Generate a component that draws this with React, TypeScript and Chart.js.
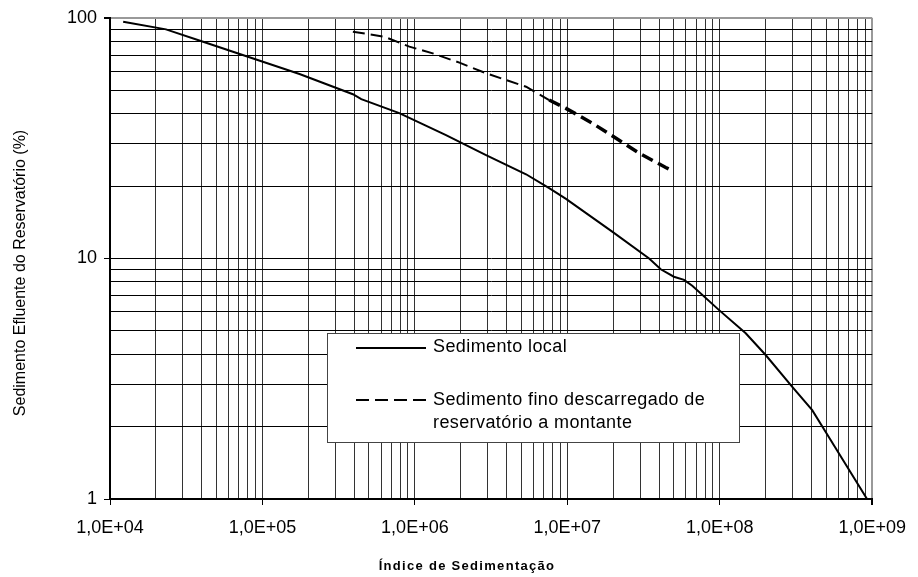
import React, { useEffect, useRef } from "react";
import { Chart, registerables } from "chart.js";

Chart.register(...registerables);

// ---- Data ----
const localLabel = "Sedimento local";
const fineLabelLines = ["Sedimento fino descarregado de", "reservatório a montante"];

const localX = [1.22e4, 2.33e4, 4.08e4, 1.75e5, 3.92e5, 4.45e5, 7.9e5, 1.6e6, 2.93e6, 5.36e6, 7.6e6, 9.8e6, 1.98e7, 3.44e7, 4.1e7, 5.0e7, 5.83e7, 6.6e7, 9.9e7, 1.48e8, 2.0e8, 2.98e8, 4.04e8, 4.93e8, 9.25e8];
const localY = [96.5, 89.7, 79.7, 58.5, 48.2, 46.0, 40.2, 32.6, 26.9, 22.4, 19.6, 17.7, 12.9, 10.0, 9.02, 8.4, 8.15, 7.7, 6.1, 4.89, 3.97, 2.93, 2.34, 1.91, 1.0];

const fineX = [3.92e5, 6.3e5, 9.2e5, 1.31e6, 1.96e6, 2.93e6, 5.36e6, 7.6e6, 9.8e6, 1.46e7, 1.98e7, 2.96e7, 4.42e7, 5.0e7];
const fineY = [87.7, 83.6, 76.0, 71.3, 65.2, 58.9, 51.8, 45.6, 42.1, 36.5, 32.3, 27.4, 23.9, 23.0];

const xTickLabels = ["1,0E+04", "1,0E+05", "1,0E+06", "1,0E+07", "1,0E+08", "1,0E+09"];
const yTickLabels = ["1", "10", "100"];
const xTitle = "Índice de Sedimentação";
const yTitle = "Sedimento Efluente do Reservatório (%)";

const X_MIN_EXP = 4;
const X_MAX_EXP = 9;
const Y_MIN_EXP = 0;
const Y_MAX_EXP = 2;

const FONT = "'Liberation Sans', Arial, Helvetica, sans-serif";

function logTicks(minExp: number, maxExp: number) {
  const out: { value: number; major: boolean }[] = [];
  for (let e = minExp; e < maxExp; e++) {
    for (let m = 1; m <= 9; m++) {
      out.push({ value: m * Math.pow(10, e), major: m === 1 });
    }
  }
  out.push({ value: Math.pow(10, maxExp), major: true });
  return out;
}

function isDecade(v: number) {
  const l = Math.log10(v);
  return Math.abs(l - Math.round(l)) < 1e-9;
}

const overlayPlugin = {
  id: "overlay",
  afterDatasetsDraw(chart: any) {
    const { ctx, chartArea: ca } = chart;
    ctx.save();
    // legend box
    const bx = ca.left + 217;
    const by = ca.top + 315;
    const bw = 412;
    const bh = 109;
    ctx.fillStyle = "#ffffff";
    ctx.fillRect(bx, by, bw, bh);
    ctx.strokeStyle = "#444";
    ctx.lineWidth = 1;
    ctx.strokeRect(bx + 0.5, by + 0.5, bw, bh);

    ctx.strokeStyle = "#000";
    ctx.lineWidth = 2;
    ctx.setLineDash([]);
    ctx.beginPath();
    ctx.moveTo(bx + 29, by + 15);
    ctx.lineTo(bx + 99, by + 15);
    ctx.stroke();

    ctx.setLineDash([13, 6]);
    ctx.beginPath();
    ctx.moveTo(bx + 29, by + 67);
    ctx.lineTo(bx + 99, by + 67);
    ctx.stroke();
    ctx.setLineDash([]);

    ctx.fillStyle = "#000";
    ctx.font = `18px ${FONT}`;
    (ctx as any).letterSpacing = "0.4px";
    ctx.textAlign = "left";
    ctx.textBaseline = "middle";
    ctx.fillText(chart.data.datasets[0].label, bx + 106, by + 14);
    ctx.fillText(fineLabelLines[0], bx + 106, by + 67);
    ctx.fillText(fineLabelLines[1], bx + 106, by + 90);
    ctx.restore();
  },
  afterDraw(chart: any) {
    const { ctx, chartArea: ca } = chart;
    ctx.save();
    ctx.fillStyle = "#000";
    ctx.textAlign = "center";
    ctx.textBaseline = "middle";
    // x title
    ctx.font = `bold 13px ${FONT}`;
    (ctx as any).letterSpacing = "1.3px";
    ctx.fillText(xTitle, ca.left + 357, ca.bottom + 67);
    // y title
    ctx.font = `16px ${FONT}`;
    (ctx as any).letterSpacing = "0px";
    ctx.translate(21, ca.top + 255);
    ctx.rotate(-Math.PI / 2);
    ctx.fillText(yTitle, 0, 0);
    ctx.restore();
  },
};

export default function App() {
  const ref = useRef<HTMLCanvasElement>(null);

  useEffect(() => {
    if (!ref.current) return;
    const chart = new Chart(ref.current, {
      type: "line",
      data: {
        datasets: [
          {
            label: localLabel,
            data: localX.map((x, i) => ({ x, y: localY[i] })),
            borderColor: "#000",
            borderWidth: 2,
            pointRadius: 0,
            tension: 0,
            fill: false,
          },
          {
            label: fineLabelLines.join(" "),
            data: fineX.map((x, i) => ({ x, y: fineY[i] })),
            borderColor: "#000",
            borderWidth: 2,
            borderDash: [12, 6],
            pointRadius: 0,
            tension: 0,
            fill: false,
            segment: {
              borderWidth: (c: any) => (c.p0DataIndex >= 7 ? 3.5 : 2),
            },
          },
        ],
      },
      options: {
        animation: false,
        responsive: false,
        parsing: true,
        layout: { padding: { top: 18, right: 45, left: 0, bottom: 0 } },
        plugins: {
          legend: { display: false },
          tooltip: { enabled: false },
        },
        scales: {
          x: {
            type: "logarithmic",
            min: Math.pow(10, X_MIN_EXP),
            max: Math.pow(10, X_MAX_EXP),
            afterBuildTicks: (scale: any) => {
              scale.ticks = logTicks(X_MIN_EXP, X_MAX_EXP);
            },
            afterFit: (scale: any) => {
              scale.height = 78;
            },
            ticks: {
              autoSkip: false,
              maxRotation: 0,
              minRotation: 0,
              padding: 12,
              color: "#000",
              font: { family: FONT, size: 18 },
              callback: (v: any) => (isDecade(Number(v)) ? xTickLabels[Math.round(Math.log10(Number(v))) - X_MIN_EXP] : ""),
            },
            grid: {
              color: (c: any) => (c.tick && c.tick.value === Math.pow(10, X_MAX_EXP) ? "#999" : "#333"),
              lineWidth: (c: any) => (c.tick && c.tick.value === Math.pow(10, X_MAX_EXP) ? 2 : 1),
              tickLength: 6,
              tickColor: (c: any) => (c.tick && isDecade(c.tick.value) ? "#000" : "rgba(0,0,0,0)"),
            },
            border: { color: "#000", width: 2 },
            title: { display: false },
          },
          y: {
            type: "logarithmic",
            min: Math.pow(10, Y_MIN_EXP),
            max: Math.pow(10, Y_MAX_EXP),
            afterBuildTicks: (scale: any) => {
              scale.ticks = logTicks(Y_MIN_EXP, Y_MAX_EXP);
            },
            afterFit: (scale: any) => {
              scale.width = 110;
            },
            ticks: {
              autoSkip: false,
              padding: 7,
              color: "#000",
              font: { family: FONT, size: 18 },
              callback: (v: any) => (isDecade(Number(v)) ? yTickLabels[Math.round(Math.log10(Number(v))) - Y_MIN_EXP] : ""),
            },
            grid: {
              color: (c: any) => (c.tick && c.tick.value === Math.pow(10, Y_MAX_EXP) ? "#999" : "#000"),
              lineWidth: (c: any) => (c.tick && c.tick.value === Math.pow(10, Y_MAX_EXP) ? 2 : 1),
              tickLength: 6,
              tickColor: (c: any) => (c.tick && isDecade(c.tick.value) ? "#000" : "rgba(0,0,0,0)"),
            },
            border: { color: "#000", width: 2 },
            title: { display: false },
          },
        },
      },
      plugins: [overlayPlugin],
    } as any);
    return () => chart.destroy();
  }, []);

  return (
    <div style={{ position: "fixed", left: 0, top: 0, width: 918, height: 577, background: "#fff" }}>
      <canvas ref={ref} width={918} height={577} style={{ display: "block" }} />
    </div>
  );
}
